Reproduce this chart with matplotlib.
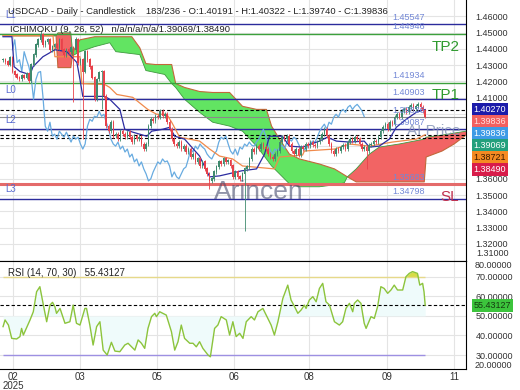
import numpy as np
import matplotlib
matplotlib.use("Agg")
import matplotlib.pyplot as plt

plt.rcParams['font.family'] = ['Liberation Sans', 'DejaVu Sans']

# ---- price data (daily closes) ----
closes = [
    1.4334, 1.4322, 1.4304, 1.4346, 1.4261, 1.4242, 1.4224, 1.4212, 1.4236, 1.4224,
    1.4249, 1.4200, 1.4304, 1.4365, 1.4426, 1.4456, 1.4487, 1.4426, 1.4444, 1.4456,
    1.4395, 1.4414, 1.4426, 1.4408, 1.4456, 1.4395, 1.4365, 1.4395, 1.4383, 1.4408,
    1.4395, 1.4456, 1.4316, 1.4334, 1.4261, 1.4383, 1.4334, 1.4291, 1.4224, 1.4090,
    1.4212, 1.4255, 1.4261, 1.4108, 1.3925, 1.3894, 1.3949, 1.3864, 1.3876, 1.3845,
    1.3894, 1.3876, 1.3857, 1.3888, 1.3857, 1.3827, 1.3864, 1.3845, 1.3857, 1.3815,
    1.3784, 1.3815, 1.3925, 1.3967, 1.3955, 1.3986, 1.3980, 1.4016, 1.3986, 1.3998,
    1.3949, 1.3906, 1.3845, 1.3815, 1.3802, 1.3827, 1.3784, 1.3802, 1.3766, 1.3784,
    1.3735, 1.3753, 1.3705, 1.3723, 1.3680, 1.3705, 1.3662, 1.3631, 1.3588, 1.3601,
    1.3643, 1.3674, 1.3705, 1.3692, 1.3723, 1.3705, 1.3711, 1.3680, 1.3613, 1.3643,
    1.3613, 1.3601, 1.3631, 1.3662, 1.3674, 1.3723, 1.3784, 1.3766, 1.3802, 1.3784,
    1.3815, 1.3796, 1.3784, 1.3753, 1.3735, 1.3723, 1.3753, 1.3772, 1.3827, 1.3857,
    1.3845, 1.3864, 1.3815, 1.3772, 1.3753, 1.3784, 1.3747, 1.3796, 1.3784, 1.3815,
    1.3802, 1.3827, 1.3808, 1.3802, 1.3827, 1.3845, 1.3876, 1.3906, 1.3864, 1.3815,
    1.3772, 1.3753, 1.3784, 1.3772, 1.3796, 1.3808, 1.3784, 1.3827, 1.3845, 1.3833,
    1.3857, 1.3845, 1.3815, 1.3784, 1.3796, 1.3772, 1.3808, 1.3815, 1.3833, 1.3827,
    1.3857, 1.3894, 1.3918, 1.3937, 1.3906, 1.3949, 1.3937, 1.3980, 1.3998, 1.3980,
    1.4016, 1.4028, 1.4010, 1.4041, 1.4053, 1.4028, 1.4047, 1.4059, 1.4041, 1.40191,
    1.39836,
]
last_open = 1.40191
low_bars = [30, 34, 42, 88, 103, 155, 180]
low_vals = [1.4071, 1.3845, 1.4028, 1.3540, 1.3277, 1.3662, 1.39740]
high_bars = [16, 31, 180]
high_vals = [1.4517, 1.4475, 1.40322]

# ---- ichimoku lines (bar, price) ----
tenkan_x = [0, 3.8, 4.7, 7.2, 11.5, 12.8, 17.0, 20.0, 22.1, 27.2, 31.5, 32.8, 34.0, 43.4, 45.5,
            49.8, 51.9, 55.3, 61.3, 63.4, 68.1, 71.1, 73.2, 77.4, 83.8, 88.1, 92.3, 101.7, 108.1,
            111.5, 113.6, 119.1, 122.1, 127.7, 134.9, 138.3, 142.1, 147.7, 154.0, 156.2, 160.4,
            164.7, 167.7, 171.9, 176.2, 180]
tenkan_y = [1.4475, 1.4475, 1.4291, 1.4261, 1.4242, 1.4291, 1.4352, 1.4377, 1.4395, 1.4383,
            1.4316, 1.4212, 1.4108, 1.4108, 1.4090, 1.4028, 1.3906, 1.3888, 1.3863, 1.3894,
            1.3906, 1.3918, 1.3863, 1.3845, 1.3741, 1.3613, 1.3619, 1.3650, 1.3662, 1.3753,
            1.3863, 1.3863, 1.3802, 1.3796, 1.3833, 1.3857, 1.3833, 1.3827, 1.3833, 1.3796,
            1.3802, 1.3845, 1.3918, 1.3967, 1.4010, 1.40270]
kijun_x = [0, 21.3, 22.1, 32.8, 33.6, 43.4, 45.5, 48.5, 55.3, 61.7, 65.5, 69.8, 71.9, 75.3,
           83.8, 88.1, 92.3, 97.9, 102.1, 115.7, 117.9, 127.7, 128.5, 141.3, 147.7, 156.2,
           166.0, 176.2, 180]
kijun_y = [1.4481, 1.4481, 1.4352, 1.4352, 1.4187, 1.4181, 1.4163, 1.4120, 1.4102, 1.4028,
           1.3998, 1.3998, 1.3949, 1.3857, 1.3833, 1.3784, 1.3741, 1.3723, 1.3680, 1.3662,
           1.3735, 1.3747, 1.3772, 1.3784, 1.3815, 1.3802, 1.3827, 1.3845, 1.38721]
cloud_x = [0, 22.6, 23.4, 28.9, 29.8, 32.8, 39.1, 45.5, 48.1, 54.9, 58.3, 60.9, 64.9, 68.9,
           71.9, 73.6, 77.4, 83.8, 89.4, 96.6, 102.1, 108.1, 112.3, 114.5, 117.9, 122.1,
           126.4, 134.9, 141.3, 145.5, 146.8, 150.6, 156.2, 160.4, 168.9, 179.6, 180.4,
           187.2, 192.3, 197.4]
span_a = [1.4481, 1.4481, 1.4285, 1.4285, 1.4383, 1.4456, 1.4475, 1.4475, 1.4475, 1.4475,
          1.4407, 1.4310, 1.4304, 1.4304, 1.4304, 1.4187, 1.4163, 1.4138, 1.4132, 1.4132,
          1.4047, 1.4028, 1.4028, 1.3925, 1.3845, 1.3753, 1.3723, 1.3692, 1.3662, 1.3625,
          1.3613, 1.3582, 1.3582, 1.3582, 1.3582, 1.3582, 1.3735, 1.3772, 1.3815, 1.3870]
span_b = [1.4481, 1.4481, 1.4499, 1.4499, 1.4359, 1.4383, 1.4414, 1.4438, 1.4383, 1.4371,
          1.4365, 1.4267, 1.4255, 1.4243, 1.4187, 1.4163, 1.4090, 1.4010, 1.3949, 1.3925,
          1.3894, 1.3802, 1.3723, 1.3680, 1.3631, 1.3570, 1.3552, 1.3552, 1.3564, 1.3576,
          1.3613, 1.3662, 1.3753, 1.3796, 1.3815, 1.3845, 1.3857, 1.3870, 1.3882, 1.3894]

# ---- horizontal levels ----
level_vals = [1.45547, 1.44946, 1.41934, 1.40903, 1.39836, 1.39087, 1.35683, 1.34798]
level_cols = ['#2b2b9c', '#3ca03c', '#3ca03c', '#2b2b9c', '#8a8a8a', '#2b2b9c', '#e46a6a', '#2b2b9c']
level_lw = [1.0, 1.0, 1.0, 1.0, 0.8, 1.0, 2.2, 1.0]
dashed_vals = [1.40270, 1.38721, 1.38490]
l_names = ['L1', 'L0', 'L2', 'L3']
l_vals = [1.45547, 1.40903, 1.39087, 1.34798]

# ---- right axis value boxes ----
box_vals = [1.40270, 1.39836, 1.39836, 1.39069, 1.38721, 1.38490]
box_bg = ['#1c1caa', '#f2605f', '#3d9be6', '#23a07c', '#f58a22', '#d81c4a']
box_fg = ['white', '#ffe0e0', 'white', 'white', '#3a1a00', 'white']

# ---- RSI ----
rsi_x = [0, 0.85, 2.3, 3.7, 5.8, 7.2, 7.9, 8.65, 11.5, 12.9, 14.3, 15.7, 17.2, 18.6, 20.0, 21.1,
         22.1, 22.8, 24.3, 26.4, 28.5, 29.9, 31.3, 32.8, 34.9, 35.6, 37.0, 38.4, 39.9, 41.3,
         42.7, 44.4, 46.2, 47.7, 49.8, 51.9, 53.3, 54.8, 56.2, 57.6, 59.0, 60.4, 61.8, 63.3,
         64.7, 65.4, 66.8, 69.6, 71.8, 73.2, 74.6, 76.0, 77.4, 79.6, 81.0, 82.4, 83.8, 85.2,
         87.4, 88.4, 90.2, 91.6, 93.0, 95.2, 96.6, 98.0, 99.4, 100.9, 102.3, 103.7, 105.8,
         107.2, 108.7, 110.8, 112.2, 114.3, 115.7, 117.2, 119.3, 121.4, 122.8, 124.3, 125.7,
         127.1, 128.5, 129.2, 130.6, 132.1, 133.5, 134.9, 136.3, 137.7, 139.2, 141.3, 143.4,
         144.8, 146.2, 147.7, 149.1, 149.8, 151.2, 152.6, 154.0, 154.8, 156.9, 158.3, 159.7,
         161.1, 162.5, 164.0, 165.4, 166.8, 168.2, 170.4, 171.8, 173.2, 174.6, 176.7, 177.7,
         178.9, 179.5, 180]
rsi_v = [44.5, 47.9, 45.3, 38.5, 38.2, 39.4, 43.6, 40.2, 47.9, 52.1, 62.3, 64.9, 55.5, 47.0,
         55.5, 56.9, 54.7, 51.3, 53.8, 46.2, 47.0, 55.5, 46.2, 45.3, 53.8, 53.8, 45.3, 35.1,
         44.5, 47.0, 32.5, 30.0, 36.5, 32.0, 31.7, 35.1, 36.0, 34.2, 32.5, 37.7, 36.0, 33.4,
         43.6, 49.6, 51.3, 49.6, 52.1, 50.4, 41.9, 32.5, 36.8, 45.3, 38.5, 36.0, 36.0, 34.2,
         36.8, 33.4, 30.0, 29.1, 43.6, 45.3, 49.6, 47.9, 40.2, 47.0, 39.4, 41.1, 38.5, 47.0,
         49.6, 47.9, 52.1, 53.8, 50.4, 45.3, 40.2, 47.0, 58.9, 65.7, 58.1, 54.7, 51.3, 53.0,
         55.5, 53.8, 58.1, 59.8, 57.2, 64.0, 66.6, 57.2, 55.5, 47.0, 45.3, 47.0, 53.8, 56.4,
         52.1, 56.4, 58.1, 56.4, 46.2, 43.6, 49.6, 48.7, 54.7, 64.9, 64.0, 61.5, 63.2, 65.7,
         63.2, 63.2, 70.0, 71.7, 72.6, 71.7, 65.7, 66.6, 62.3, 55.43127]
rsi_last = 55.43127

tick_pos = [4.3, 32.8, 65.5, 98.3, 130.6, 163.8, 192.3]
tick_lab = ['02\n2025', '03', '05', '06', '08', '09', '11']

# ---- build OHLC ----
closes = np.array(closes)
n = len(closes)
bars = np.arange(n)
opens = np.r_[closes[0], closes[:-1]]
opens[-1] = last_open
highs = np.maximum(opens, closes) + 0.0012
lows = np.minimum(opens, closes) - 0.0012
highs[high_bars] = high_vals
lows[low_bars] = low_vals

W, H = 520, 390
fig = plt.figure(figsize=(W / 100, H / 100), dpi=100)
ax = fig.add_axes([0, 1 - 260.5 / H, 466 / W, 260.5 / H])
ax2 = fig.add_axes([0, 1 - 369 / H, 466 / W, 108.5 / H], sharex=ax)

ax.set_xlim(-1.3, 197.4)
ax.set_ylim(1.30985, 1.47009)
ax2.set_ylim(22.86, 78.27)

grid_c = '#e4e4e4'
for t in tick_pos:
    ax.axvline(t, color=grid_c, lw=0.8, zorder=0)
    ax2.axvline(t, color=grid_c, lw=0.8, zorder=0)
yt = np.round(np.arange(1.32, 1.4601, 0.01), 2)
for v in yt:
    ax.axhline(v, color=grid_c, lw=0.8, zorder=0)

# cloud
ca = np.array(span_a)
cb = np.array(span_b)
ax.fill_between(cloud_x, ca, cb, where=ca >= cb, interpolate=True, color='#62e462', lw=0, zorder=1)
ax.fill_between(cloud_x, ca, cb, where=ca < cb, interpolate=True, color='#f26464', lw=0, zorder=1)
ax.plot(cloud_x, ca, color='#c2683a', lw=0.8, zorder=1.5)
ax.plot(cloud_x, cb, color='#3f9a3f', lw=0.6, zorder=1.5)

# levels
for v, c, lw in zip(level_vals, level_cols, level_lw):
    ax.axhline(v, color=c, lw=lw, zorder=2)
    ax.annotate(f'{v:.5f}', xy=(392 / 466, v), xycoords=('axes fraction', 'data'),
                xytext=(0, 1.5), textcoords='offset points', ha='left', va='bottom',
                fontsize=6.5, color='#7388d6', zorder=6)
for v in dashed_vals:
    ax.axhline(v, color='black', lw=0.8, ls=(0, (3, 2)), zorder=2)
for name, v in zip(l_names, l_vals):
    ax.annotate(name, xy=(5 / 466, v), xycoords=('axes fraction', 'data'),
                xytext=(0, 3), textcoords='offset points', ha='left', va='bottom',
                fontsize=7, color='#5a6cd0', zorder=6)

# ichimoku lines (lagging line drawn from the fifth bar on)
ax.plot(bars[4:-26], closes[30:], color='#68abe0', lw=0.9, zorder=3)
ax.plot(kijun_x, kijun_y, color='#f08a4b', lw=0.9, zorder=3)
ax.plot(tenkan_x, tenkan_y, color='#2c2ca0', lw=0.9, zorder=4)

# candles
up = closes >= opens
cols = np.where(up, '#3f8a6e', '#e8414a')
ax.vlines(bars, lows, highs, colors=cols, lw=0.6, zorder=5)
ax.bar(bars, np.abs(closes - opens) + 0.0003, bottom=np.minimum(opens, closes),
       width=0.65, color=cols, lw=0, zorder=5)

# overlay texts
ax.text(446 / 466, 1 - 47 / 260.5, 'TP2', transform=ax.transAxes, ha='center', va='center',
        fontsize=11, color='#2f9a2f', zorder=7)
ax.text(446 / 466, 1 - 95 / 260.5, 'TP1', transform=ax.transAxes, ha='center', va='center',
        fontsize=11, color='#2f9a2f', zorder=7)
ax.text(450 / 466, 1 - 197 / 260.5, 'SL', transform=ax.transAxes, ha='center', va='center',
        fontsize=11, color='#c0304e', zorder=7)
ax.text(434 / 466, 1 - 131 / 260.5, 'AI Price', transform=ax.transAxes, ha='center', va='center',
        fontsize=11, color='#8090b4', alpha=0.8, zorder=7)
ax.text(259 / 466, 1 - 192 / 260.5, 'Arincen', transform=ax.transAxes, ha='center', va='center',
        fontsize=19, color='#464c6e', alpha=0.6, zorder=7)

fig.text(8 / W, 1 - 12 / H,
         'USDCAD - Daily - Candlestick    183/236 - O:1.40191 - H:1.40322 - L:1.39740 - C:1.39836',
         fontsize=6.8, color='#222222', va='center', ha='left')
fig.text(10 / W, 1 - 29 / H, 'ICHIMOKU (9, 26, 52)   n/a/n/a/n/a/1.39069/1.38490',
         fontsize=6.8, color='#222222', va='center', ha='left')

# axes styling main; labels that sit under the value boxes are left blank
box_h = 12 / 1636
pos = []
for v in box_vals:
    p = v if not pos else min(v, pos[-1] - box_h)
    pos.append(p)
ylabs = []
for v in yt:
    hidden = any(abs(v - p) < box_h * 0.75 for p in pos) and v > 1.365
    ylabs.append('' if hidden else f'{v:.5f}')
ax.set_yticks(yt)
ax.set_yticklabels(ylabs)
ax.yaxis.tick_right()
ax.tick_params(axis='y', length=0, pad=7, labelsize=6.5, colors='#333333')
ax.tick_params(axis='x', length=0, labelbottom=False)
for s in ['top', 'left']:
    ax.spines[s].set_visible(False)
ax.spines['right'].set_color('black')
ax.spines['bottom'].set_color('black')
# lowest price label is pushed up above the panel edge
fig.text(476 / W, 1 - 254 / H, '1.31000', fontsize=6.5, color='#333333', va='center', ha='left')

# stacked value boxes on the right axis
for p, v, bg, fg in zip(pos, box_vals, box_bg, box_fg):
    ax.annotate(f'{v:.5f}', xy=(1, p), xycoords=('axes fraction', 'data'),
                xytext=(5.4, 0), textcoords='offset points', ha='left', va='center',
                fontsize=6.5, color=fg, annotation_clip=False, zorder=10,
                bbox=dict(boxstyle='square,pad=0.22', fc=bg, ec='none'))

# RSI panel
rv = np.array(rsi_v)
ax2.fill_between(rsi_x, rv, 50, color='#effbfb', lw=0, zorder=1)
ax2.fill_between(rsi_x, rv, 70, where=rv > 70, interpolate=True, color='#d6dc48', lw=0, zorder=1)
ax2.hlines(70, 0, 180, color='#e6d98a', lw=1, zorder=2)
ax2.hlines(30, 0, 180, color='#9d90e2', lw=1, zorder=2)
ax2.axhline(rsi_last, color='black', lw=0.8, ls=(0, (3, 2)), zorder=2)
ax2.plot(rsi_x, rv, color='#8cc43c', lw=1.0, zorder=3)
rt = [30, 40, 50, 60, 70]
for v in rt:
    ax2.axhline(v, color=grid_c, lw=0.8, zorder=0)
ax2.set_yticks(rt)
ax2.set_yticklabels([f'{v:.5f}' for v in rt])
ax2.yaxis.tick_right()
ax2.tick_params(axis='y', length=0, pad=7, labelsize=6.5, colors='#333333')
ax2.set_xticks(tick_pos)
ax2.set_xticklabels(tick_lab)
ax2.tick_params(axis='x', length=0, pad=2, labelsize=7, colors='#333333')
for lab in ax2.get_xticklabels():
    lab.set_linespacing(0.95)
ax2.spines['left'].set_visible(False)
for s in ['top', 'right', 'bottom']:
    ax2.spines[s].set_color('black')
fig.text(475 / W, 1 - 266 / H, '80.00000', fontsize=6.5, color='#333333', va='center', ha='left')
fig.text(475 / W, 1 - 365 / H, '20.00000', fontsize=6.5, color='#333333', va='center', ha='left')
ax2.annotate(f'{rsi_last:.5f}', xy=(1, rsi_last), xycoords=('axes fraction', 'data'),
             xytext=(5.4, 0), textcoords='offset points', ha='left', va='center',
             fontsize=6.5, color='#153a10', annotation_clip=False, zorder=10,
             bbox=dict(boxstyle='square,pad=0.22', fc='#3cc43c', ec='none'))
ax2.text(8 / 466, 0.885, 'RSI (14, 70, 30)   55.43127', transform=ax2.transAxes,
         fontsize=7, color='#222222', va='center', ha='left')

fig.savefig('out.png', dpi=100)
